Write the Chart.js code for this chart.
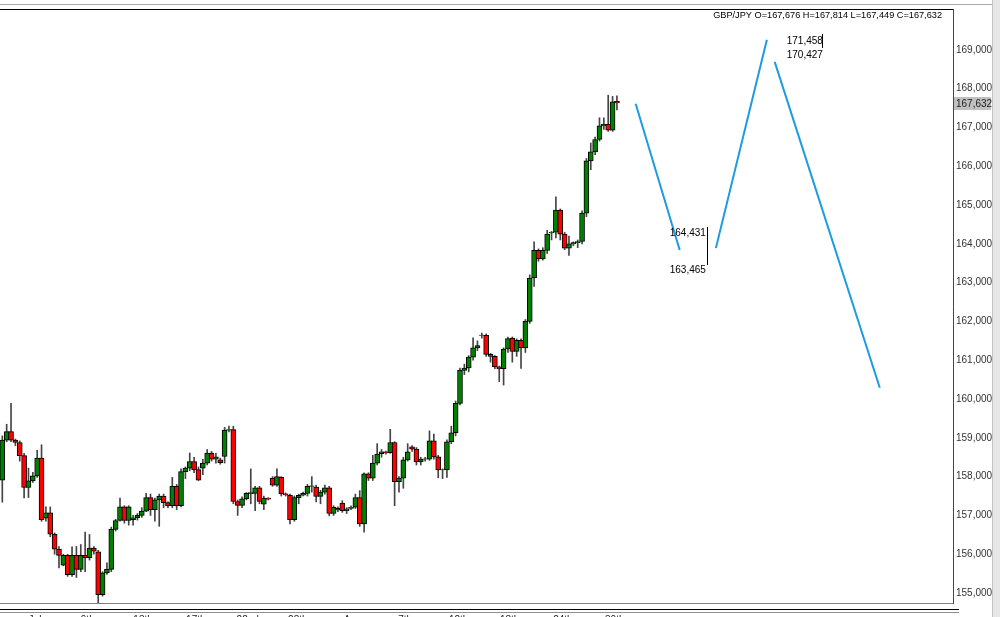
<!DOCTYPE html>
<html>
<head>
<meta charset="utf-8">
<script src="https://cdn.jsdelivr.net/npm/chart.js@4.4.1/dist/chart.umd.min.js"></script>
<style>
  html, body { margin: 0; padding: 0; background: #fff; overflow: hidden; }
  #chart { display: block; }
</style>
</head>
<body>
<canvas id="chart" width="1000" height="625"></canvas>
<script>
// GBP/JPY candles
var opens = [
  157.91,158.94,159.16,158.94,158.88,158.54,157.72,157.89,158.02,158.48,
  156.93,157.07,156.51,156.13,155.72,155.97,155.47,155.97,155.61,155.97,
  155.91,156.16,156.06,154.96,155.52,155.61,156.64,156.87,157.22,156.87,
  156.89,156.94,157.00,157.11,157.46,157.15,157.40,157.50,157.33,157.25,
  157.75,157.25,158.13,158.22,158.39,158.18,158.22,158.35,158.61,158.45,
  158.43,158.52,159.20,159.21,157.36,157.26,157.43,157.56,157.57,157.71,
  157.29,157.45,157.96,157.78,157.98,157.56,157.52,156.89,157.46,157.52,
  157.57,157.75,157.73,157.49,157.60,157.71,157.05,157.14,157.32,157.12,
  157.18,157.21,157.46,156.78,158.07,157.96,158.35,158.59,158.64,158.62,
  158.88,157.87,157.96,158.43,158.77,158.71,158.38,158.45,158.45,158.92,
  158.51,158.17,158.17,158.90,159.13,159.89,160.74,160.80,161.08,161.32,
  161.64,161.64,161.15,161.10,160.83,160.78,161.29,161.57,161.23,161.51,
  161.32,162.00,163.12,163.83,163.61,163.83,164.28,164.30,164.87,164.25,
  163.89,164.00,164.03,164.06,164.79,166.14,166.37,166.69,167.04,167.08,
  166.93,167.676
];
var highs = [
  159.05,159.35,159.89,158.97,158.92,158.60,158.22,158.11,158.68,158.82,
  157.22,157.22,156.55,156.20,156.00,156.00,156.19,156.20,156.25,156.57,
  156.51,156.20,156.10,155.55,155.78,156.70,156.90,157.45,157.25,157.25,
  157.00,157.05,157.20,157.57,157.55,157.45,157.55,157.55,157.35,157.98,
  157.80,158.20,158.25,158.61,158.50,158.25,158.45,158.70,158.65,158.60,
  158.48,159.27,159.30,159.30,157.40,157.48,157.59,158.20,157.75,157.75,
  157.50,157.46,158.00,158.20,158.00,157.58,157.55,157.50,157.55,157.60,
  157.80,158.00,157.78,157.65,157.78,157.75,157.25,157.22,157.38,157.20,
  157.25,157.55,157.64,158.10,158.10,158.55,158.85,158.70,158.66,159.22,
  158.90,158.00,158.50,158.85,158.80,158.75,158.50,158.50,159.18,159.10,
  158.55,158.20,158.95,159.30,159.95,160.80,160.90,161.12,161.58,161.50,
  161.70,161.68,161.18,161.12,160.85,161.32,161.60,161.60,161.55,161.55,
  162.05,163.20,164.05,163.87,163.90,164.35,164.32,165.21,164.90,164.30,
  164.20,164.05,164.10,164.85,166.20,166.60,166.75,167.25,167.25,167.83,
  167.80,167.814
];
var lows = [
  157.34,158.90,158.90,158.80,158.40,157.45,157.46,157.85,157.98,156.85,
  156.85,156.45,156.00,155.65,155.70,155.43,155.43,155.40,155.55,155.55,
  155.85,156.00,154.73,154.92,155.48,155.55,156.60,156.85,156.80,156.75,
  156.75,156.88,156.95,157.10,157.00,156.85,156.72,157.20,157.20,157.20,
  157.15,157.22,157.95,158.15,158.10,157.90,158.05,158.30,158.40,158.35,
  158.32,158.35,159.15,157.30,157.00,157.20,157.40,157.30,157.12,157.30,
  157.15,157.40,157.75,157.75,157.50,157.50,156.78,156.85,157.30,157.50,
  157.50,157.60,157.35,157.30,157.55,156.99,157.00,157.10,157.08,157.05,
  157.15,157.18,156.72,156.57,157.90,157.90,158.30,158.50,158.58,158.60,
  157.25,157.60,157.70,158.40,158.65,158.30,158.30,158.40,158.42,158.45,
  157.97,157.95,157.98,158.85,159.05,159.85,160.63,160.70,161.00,161.25,
  161.57,161.10,160.95,160.78,160.45,160.36,161.20,160.95,161.10,160.79,
  161.20,161.95,162.90,163.55,163.58,163.75,164.10,164.15,164.10,163.85,
  163.70,163.95,163.90,164.00,164.70,165.91,166.30,166.65,166.95,166.90,
  166.90,167.449
];
var closes = [
  158.94,159.16,158.94,158.88,158.54,157.72,157.89,158.02,158.48,156.89,
  157.07,156.52,156.13,155.97,155.97,155.47,155.97,155.61,155.97,155.91,
  156.16,156.08,154.96,155.52,155.61,156.64,156.87,157.22,156.87,157.22,
  156.94,157.00,157.11,157.46,157.15,157.40,157.50,157.33,157.25,157.75,
  157.25,158.13,158.22,158.39,158.18,157.91,158.35,158.61,158.45,158.51,
  158.36,159.20,159.21,157.36,157.26,157.43,157.57,157.59,157.71,157.36,
  157.45,157.42,157.78,158.00,157.56,157.53,156.89,157.46,157.52,157.57,
  157.75,157.76,157.49,157.60,157.71,157.05,157.21,157.18,157.12,157.17,
  157.21,157.46,156.78,158.07,157.96,158.35,158.58,158.64,158.62,158.88,
  157.87,157.96,158.43,158.64,158.71,158.38,158.45,158.46,158.92,158.51,
  158.17,158.18,158.90,159.13,159.89,160.74,160.80,161.08,161.32,161.38,
  161.65,161.15,161.10,160.83,160.78,161.29,161.56,161.23,161.51,161.32,
  162.00,163.12,163.83,163.61,163.83,164.25,164.30,164.87,164.25,163.89,
  164.00,164.03,164.06,164.79,166.14,166.37,166.69,167.04,167.08,166.93,
  167.66,167.632
];

// date labels along the bottom (bar position, text)
var xTickPos = [8.5, 20.6, 33.3, 45.4, 57.3, 68.8, 81.4, 93.4, 105.7, 117.4, 129.6, 141.5];
var xTickText = ["Jul", "9th", "13th", "17th", "22nd", "28th", "Aug", "7th", "12th", "18th", "24th", "30th"];
var yTicks = [155, 156, 157, 158, 159, 160, 161, 162, 163, 164, 165, 166, 167, 168, 169];

// hand drawn projection (bar position, price)
var proj1 = [[146.3, 167.61], [156.4, 163.84]];
var proj2 = [[164.7, 163.89], [176.4, 169.26]];
var proj3 = [[178.2, 168.69], [202.3, 160.29]];
var noteLow = ["164,431", "163,465"];
var noteHigh = ["171,458", "170,427"];

var symbol = "GBP/JPY";
var upColor = "#008000";
var downColor = "#ff0000";
var projColor = "#1c9be2";

function fmt(v) {
    return v.toFixed(3).replace(".", ",")
}

var bodies = opens.map(function(o, i) {
    return { x: i + 1, y: [o, closes[i]] }
});
var wicks = lows.map(function(l, i) {
    return { x: i + 1, y: [l, highs[i]] }
});
var bodyColors = opens.map(function(o, i) {
    return closes[i] >= o ? upColor : downColor
});
function toPts(arr) {
    return arr.map(function(p) { return { x: p[0], y: p[1] } })
}

var decorations = {
    id: "decorations",
    afterDraw: function(chart) {
        var ctx = chart.ctx;
        var area = chart.chartArea;
        var xs = chart.scales.x;
        var ys = chart.scales.y;
        ctx.save();
        // frame
        ctx.fillStyle = "#e6e6e6";
        ctx.fillRect(992, 0, 8, 625);
        ctx.fillStyle = "#c4c4c4";
        ctx.fillRect(992, 0, 1, 625);
        ctx.fillStyle = "#a8a8a8";
        ctx.fillRect(0, 4, 992, 1);
        ctx.fillStyle = "#000";
        ctx.fillRect(0, area.top, area.right, 1);
        ctx.fillStyle = "#808080";
        ctx.fillRect(0, area.bottom, area.right, 1);
        ctx.fillStyle = "#000";
        ctx.fillRect(0, area.bottom + 6, area.right + 6, 1);
        ctx.fillStyle = "#909090";
        ctx.fillRect(0, area.bottom + 9, area.right + 6, 1);

        // last price box
        var last = closes.length - 1;
        var py = Math.round(ys.getPixelForValue(closes[last]));
        ctx.fillStyle = "#c0c0c0";
        ctx.fillRect(area.right + 1, py - 6, 37, 13);
        ctx.fillStyle = "#222";
        ctx.font = "10px 'Liberation Sans', Arial, sans-serif";
        ctx.textBaseline = "middle";
        ctx.textAlign = "left";
        ctx.fillText(fmt(closes[last]), area.right + 3, py + 1);

        // header
        ctx.fillStyle = "#000";
        ctx.textAlign = "right";
        ctx.font = "9.2px 'Liberation Sans', Arial, sans-serif";
        var head = symbol + " O=" + fmt(opens[last]) + " H=" + fmt(highs[last]) +
            " L=" + fmt(lows[last]) + " C=" + fmt(closes[last]);
        ctx.fillText(head, area.right - 11, 15);

        // notes next to the projection
        ctx.font = "10px 'Liberation Sans', Arial, sans-serif";
        var ax = xs.getPixelForValue(proj2[0][0]);
        var ay = ys.getPixelForValue(proj2[0][1]);
        ctx.textAlign = "right";
        ctx.fillText(noteLow[0], ax - 10, ay - 15);
        ctx.fillText(noteLow[1], ax - 10, ay + 22);
        ctx.fillRect(Math.round(ax - 9), Math.round(ay - 21), 1, 38);
        var bx = xs.getPixelForValue(proj3[0][0]);
        var by = ys.getPixelForValue(proj2[1][1]);
        ctx.textAlign = "left";
        ctx.fillText(noteHigh[0], bx + 12, by + 1);
        ctx.fillText(noteHigh[1], bx + 12, by + 15);
        ctx.fillRect(Math.round(bx + 47), Math.round(by - 6), 1, 14);
        ctx.restore();
    }
};

new Chart(document.getElementById("chart").getContext("2d"), {
    type: "bar",
    data: {
        datasets: [{
            label: "body",
            data: bodies,
            backgroundColor: bodyColors,
            borderColor: "#000",
            borderWidth: 1,
            borderSkipped: false,
            barThickness: 5,
            grouped: false
        }, {
            label: "wick",
            data: wicks,
            backgroundColor: "#444",
            borderWidth: 0,
            barThickness: 1,
            grouped: false
        }, {
            type: "line",
            data: toPts(proj1),
            borderColor: projColor,
            borderWidth: 2,
            pointRadius: 0,
            fill: false
        }, {
            type: "line",
            data: toPts(proj2),
            borderColor: projColor,
            borderWidth: 2,
            pointRadius: 0,
            fill: false
        }, {
            type: "line",
            data: toPts(proj3),
            borderColor: projColor,
            borderWidth: 2,
            pointRadius: 0,
            fill: false
        }]
    },
    options: {
        responsive: false,
        animation: false,
        devicePixelRatio: 1,
        layout: { padding: { top: 7, left: 0, right: 0, bottom: 0 } },
        plugins: { legend: { display: false }, tooltip: { enabled: false } },
        scales: {
            x: {
                type: "linear",
                min: 0.47,
                max: 219.1,
                offset: false,
                grid: { display: false, drawTicks: false },
                border: { display: false },
                afterBuildTicks: function(scale) {
                    scale.ticks = xTickPos.map(function(v) { return { value: v } })
                },
                afterFit: function(scale) { scale.height = 22 },
                ticks: {
                    autoSkip: false,
                    maxRotation: 0,
                    padding: 11,
                    color: "#222",
                    font: { size: 10, family: "'Liberation Sans', Arial, sans-serif" },
                    callback: function(v, i) { return xTickText[i] }
                }
            },
            y: {
                position: "right",
                min: 154.743,
                max: 170.053,
                grid: { display: false, drawTicks: false },
                border: { display: true, color: "#444", width: 1 },
                afterBuildTicks: function(scale) {
                    scale.ticks = yTicks.map(function(v) { return { value: v } })
                },
                afterFit: function(scale) { scale.width = 47 },
                ticks: {
                    padding: 3,
                    color: "#333",
                    font: { size: 10, family: "'Liberation Sans', Arial, sans-serif" },
                    callback: function(v) { return fmt(v) }
                }
            }
        }
    },
    plugins: [decorations]
});
</script>
</body>
</html>
